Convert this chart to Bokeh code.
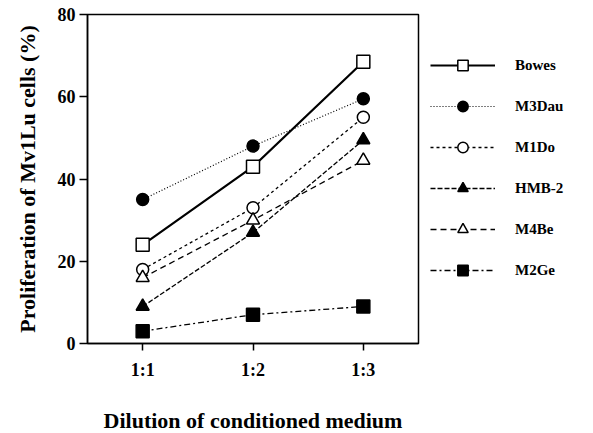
from bokeh.plotting import figure
from bokeh.models import Legend, LegendItem, FactorRange, Range1d
from bokeh.embed import file_html
from bokeh.resources import INLINE

dilutions = ["1:1", "1:2", "1:3"]
bowes = [24, 43, 68.5]
m3dau = [35, 48, 59.5]
m1do = [18, 33, 55]
hmb2 = [9, 27, 49.5]
m4be = [16, 30, 44.5]
m2ge = [3, 7, 9]
y_ticks = [0, 20, 40, 60, 80]

series = [
    ("Bowes", bowes, "solid", 2.2, "square", "white"),
    ("M3Dau", m3dau, "1 2", 1.2, "circle", "black"),
    ("M1Do", m1do, "3 3", 1.3, "circle", "white"),
    ("HMB-2", hmb2, "5 2", 1.3, "triangle", "black"),
    ("M4Be", m4be, "6 4", 1.3, "triangle", "white"),
    ("M2Ge", m2ge, "6 3 2 3", 1.3, "square", "black"),
]

FONT = "Liberation Serif"

p = figure(frame_width=331, frame_height=329, x_range=FactorRange(*dilutions, range_padding=0),
           y_range=Range1d(0, 80), output_backend="svg", toolbar_location=None,
           min_border_left=87, min_border_top=14, min_border_bottom=88, min_border_right=170)
p.xgrid.visible = False
p.ygrid.visible = False
p.outline_line_color = "black"
p.outline_line_width = 1.5
p.background_fill_color = "white"
p.border_fill_color = "white"

for ax in (p.xaxis[0], p.yaxis[0]):
    ax.axis_line_width = 1.5
    ax.major_tick_line_width = 1.5
    ax.major_tick_in = 0
    ax.minor_tick_line_color = None
    ax.major_label_text_font = FONT
    ax.major_label_text_font_style = "bold"
    ax.major_label_text_font_size = "18px"
    ax.major_label_text_color = "black"
    ax.axis_label_text_font = FONT
    ax.axis_label_text_font_style = "bold"
    ax.axis_label_text_font_size = "22px"
    ax.axis_label_text_color = "black"

p.yaxis.ticker = y_ticks
p.yaxis.major_tick_out = 8
p.yaxis.major_label_standoff = 4
p.yaxis.axis_label = "Proliferation of Mv1Lu cells (%)"
p.yaxis.axis_label_standoff = 15
p.xaxis.major_tick_out = 7
p.xaxis.major_label_standoff = 9
p.xaxis.axis_label = "Dilution of conditioned medium"
p.xaxis.axis_label_standoff = 25

items = []
for name, vals, dash, lw, marker, fill in series:
    r1 = p.line(dilutions, vals, line_color="black", line_width=lw, line_dash=dash)
    size = 13 if marker != "circle" else 12
    r2 = p.scatter(dilutions, vals, marker=marker, size=size, line_color="black",
                   line_width=1.5, fill_color=fill)
    items.append(LegendItem(label=name, renderers=[r1, r2]))

legend = Legend(items=items, location="top_left", orientation="vertical",
                title=" ", title_text_font_size="14px", title_standoff=10,
                glyph_width=65, glyph_height=26, spacing=15, label_standoff=20,
                padding=13, margin=12, border_line_color=None,
                background_fill_alpha=0,
                label_text_font=FONT, label_text_font_style="bold",
                label_text_font_size="15px", label_text_color="black")
p.add_layout(legend, "right")

open("out.html", "w").write(file_html(p, INLINE))
